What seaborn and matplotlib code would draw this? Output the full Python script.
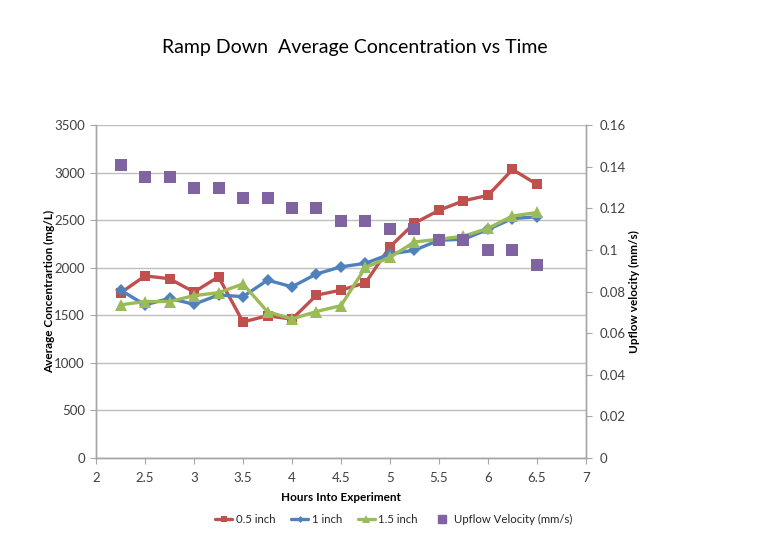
import matplotlib
matplotlib.use("Agg")
import matplotlib.pyplot as plt
import seaborn as sns
import pandas as pd
from matplotlib.lines import Line2D

hours = [2.25, 2.5, 2.75, 3.0, 3.25, 3.5, 3.75, 4.0, 4.25, 4.5, 4.75, 5.0, 5.25, 5.5, 5.75, 6.0, 6.25, 6.5]
conc_05 = [1735, 1915, 1885, 1745, 1905, 1430, 1495, 1460, 1712, 1765, 1842, 2222, 2470, 2605, 2705, 2762, 3035, 2878]
conc_10 = [1765, 1610, 1678, 1616, 1714, 1696, 1870, 1800, 1935, 2010, 2047, 2145, 2185, 2290, 2300, 2404, 2518, 2537]
conc_15 = [1610, 1645, 1645, 1707, 1738, 1830, 1538, 1462, 1540, 1602, 2005, 2110, 2272, 2300, 2333, 2415, 2545, 2582]
upflow = [0.141, 0.135, 0.135, 0.130, 0.130, 0.125, 0.125, 0.120, 0.120, 0.114, 0.114, 0.110, 0.110, 0.105, 0.105, 0.100, 0.100, 0.093]

series_names = ["0.5 inch", "1 inch", "1.5 inch"]
colors = {"0.5 inch": "#C0504D", "1 inch": "#4F81BD", "1.5 inch": "#9BBB59"}
markers = {"0.5 inch": "s", "1 inch": "D", "1.5 inch": "^"}
msizes = {"0.5 inch": 7.5, "1 inch": 6, "1.5 inch": 8.5}
purple = "#8064A2"

df = pd.DataFrame({
    "hours": hours * 3,
    "conc": conc_05 + conc_10 + conc_15,
    "series": [s for s in series_names for _ in hours],
})
df_up = pd.DataFrame({"hours": hours, "upflow": upflow})

sns.set_style("white")
plt.rcParams["font.family"] = ["Lato", "DejaVu Sans"]

fig = plt.figure(figsize=(7.62, 5.33), dpi=100)
ax = fig.add_axes([0.126, 0.141, 0.643, 0.624])
ax2 = ax.twinx()

for s in series_names:
    sub = df[df["series"] == s]
    sns.lineplot(data=sub, x="hours", y="conc", ax=ax, color=colors[s], marker=markers[s],
                 markersize=msizes[s], markeredgewidth=0, linewidth=2.4, label=s, legend=False)

sns.scatterplot(data=df_up, x="hours", y="upflow", ax=ax2, color=purple, marker="s",
                s=70, linewidth=0, legend=False)

ax.set_xlim(2, 7)
ax.set_ylim(0, 3500)
ax.set_xticks([2, 2.5, 3, 3.5, 4, 4.5, 5, 5.5, 6, 6.5, 7])
ax.set_xticklabels(["2", "2.5", "3", "3.5", "4", "4.5", "5", "5.5", "6", "6.5", "7"])
ax.set_yticks(range(0, 3501, 500))
ax2.set_ylim(0, 0.16)
ax2.set_yticks([0, 0.02, 0.04, 0.06, 0.08, 0.1, 0.12, 0.14, 0.16])
ax2.set_yticklabels(["0", "0.02", "0.04", "0.06", "0.08", "0.1", "0.12", "0.14", "0.16"])

ax.yaxis.grid(True, color="#BEBEBE", linewidth=1)
ax.xaxis.grid(False)
ax2.grid(False)

for a in (ax, ax2):
    a.spines["top"].set_visible(False)
    for side in ("left", "right", "bottom"):
        a.spines[side].set_color("#A6A6A6")
        a.spines[side].set_linewidth(1)
    a.tick_params(axis="both", direction="out", length=4, color="#A6A6A6",
                  labelsize=9.5, labelcolor="#404040", pad=6)
ax.tick_params(axis="y", left=True, pad=4)
ax.tick_params(axis="x", bottom=True)
ax2.tick_params(axis="y", right=True)

ax.set_xlabel("Hours Into Experiment", fontsize=8.5, fontweight="bold", color="black", labelpad=6)
ax.set_ylabel("Average Concentrartion (mg/L)", fontsize=8.5, fontweight="bold", color="black", labelpad=-1)
ax2.set_ylabel("Upflow velocity (mm/s)", fontsize=8.5, fontweight="bold", color="black", labelpad=2)

fig.text(0.466, 0.91, "Ramp Down  Average Concentration vs Time", ha="center", va="center",
         fontsize=14, color="black")

handles = [Line2D([], [], color=colors[s], marker=markers[s], markersize=msizes[s] - 2.5,
                  markeredgewidth=0, linewidth=2.4, label=s) for s in series_names]
handles.append(Line2D([], [], color=purple, marker="s", markersize=5.5, linewidth=0,
                      label="Upflow Velocity (mm/s)"))
fig.legend(handles=handles, loc="center", bbox_to_anchor=(0.517, 0.026), ncol=4, frameon=False,
           fontsize=8.2, handlelength=1.5, columnspacing=1.4, handletextpad=0.3)

fig.savefig("out.png", dpi=100)
